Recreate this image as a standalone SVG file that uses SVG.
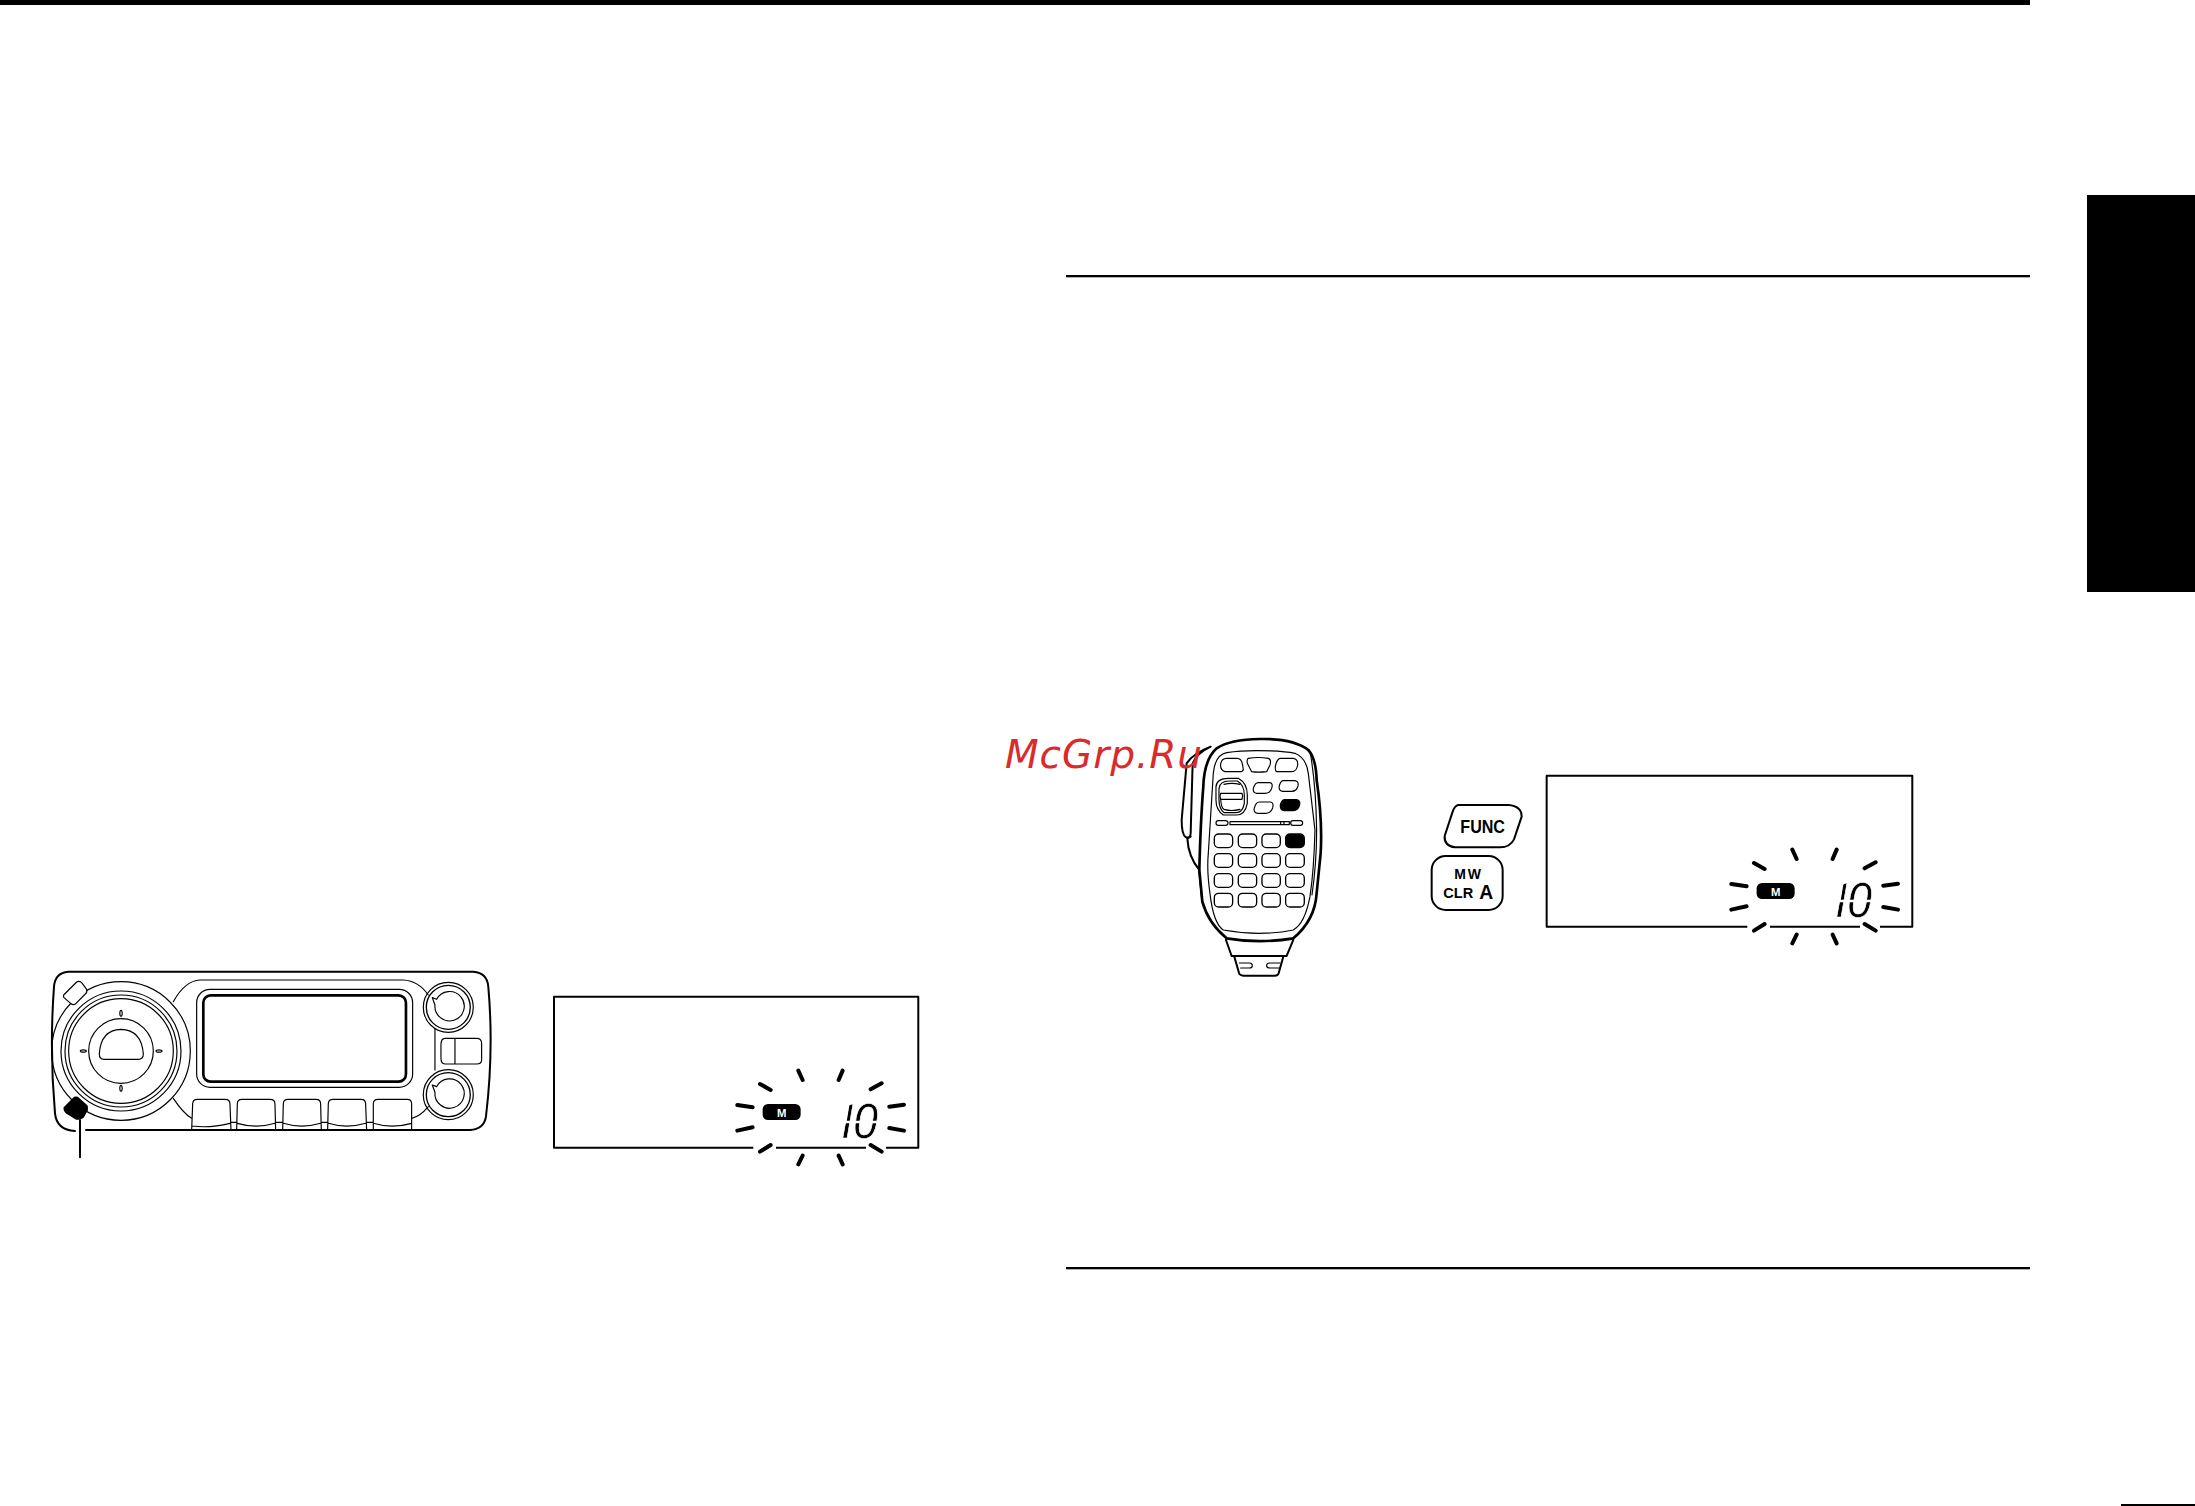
<svg xmlns="http://www.w3.org/2000/svg" width="2195" height="1506" viewBox="0 0 2195 1506">
<style>
.l{fill:none;stroke:#000;stroke-linecap:round;stroke-linejoin:round}
.w{fill:#fff;stroke:#000;stroke-linejoin:round}
.b{fill:#000;stroke:#000;stroke-linejoin:round}
.s3{stroke-width:3.5}.s4{stroke-width:4}.s6{stroke-width:6}.s8{stroke-width:8}
.ray{fill:none;stroke:#000;stroke-width:12;stroke-linecap:round}
.t{font-family:"Liberation Sans",Arial,sans-serif;font-weight:bold;text-anchor:middle}
.digits{font-family:Roboto,"Liberation Sans",sans-serif;font-style:italic;font-size:146px;letter-spacing:-20px;stroke:#fff;stroke-width:2}
.cut{fill:none;stroke:#fff;stroke-width:7}
</style>
<rect width="2195" height="1506" fill="#fff"/>
<g id="page-rules">
<rect x="0" y="0" width="2030" height="5" fill="#000"/>
<rect x="1066" y="275" width="964" height="2.3" fill="#000"/>
<rect x="1066" y="1267" width="964" height="2.3" fill="#000"/>
<rect x="2087" y="195" width="108" height="397" fill="#000"/>
<rect x="2121" y="1504" width="74" height="2" fill="#000"/>
</g>
<g id="radio" transform="translate(30 950) scale(.3333)">
<path class="l s6" d="M135 543Q80 540 75 490Q58 300 72 110Q75 68 115 65L1330 65Q1372 68 1375 110Q1392 300 1368 500Q1362 538 1320 540L168 540"/>
<path class="l s3" d="M430 155Q465 92 510 90L1120 90Q1165 92 1195 135M430 445Q460 490 485 505M1145 505Q1170 500 1195 470M1215 235V360"/>
<circle class="l s3" cx="273" cy="303" r="208"/>
<circle class="l s3" cx="273" cy="303" r="180"/>
<circle class="l s3" cx="273" cy="303" r="168"/>
<circle class="l s3" cx="273" cy="303" r="157"/>
<circle class="l s3" cx="273" cy="303" r="97"/>
<path class="l s3" d="M222 328Q208 328 208 312Q212 240 273 238Q335 240 340 312Q340 328 325 328Z"/>
<ellipse class="l s3" cx="273" cy="190" rx="3.5" ry="9"/>
<ellipse class="l s3" cx="273" cy="415" rx="3.5" ry="9"/>
<ellipse class="l s3" cx="160" cy="303" rx="9" ry="3.5"/>
<ellipse class="l s3" cx="387" cy="303" rx="9" ry="3.5"/>
<path class="w s3" d="M101 135L140 96Q148 92 155 98L170 118Q172 128 166 132L135 163Q128 166 122 160L102 143Q99 139 101 135Z"/>
<path class="b s3" d="M103 472L133 442Q138 440 143 442L170 466Q174 472 172 480L160 502Q150 510 138 507L108 488Q100 480 103 472Z"/>
<rect class="l s3" x="500" y="118" width="648" height="294" rx="40"/>
<rect class="l s8" x="520" y="136" width="608" height="259" rx="22"/>
<path class="l s3" d="M485 540L488 462Q488 448 502 448H585Q600 448 600 462L603 540M487 528Q540 535 600 520M620 540L622 462Q622 448 636 448H720Q735 448 735 462L737 540M622 520Q680 537 735 520M758 540L760 462Q760 448 774 448H858Q872 448 872 462L874 540M760 520Q815 537 872 520M893 540L895 462Q895 448 909 448H993Q1007 448 1007 462L1010 540M895 520Q950 537 1007 520M1030 540L1030 462Q1030 448 1044 448H1132Q1145 448 1145 462V540M1030 520Q1085 537 1145 520M603 517H620M737 517H758M874 517H893M1010 517H1030"/>
<path class="l s3" d="M1245 265H1340Q1355 265 1355 280V330Q1355 342 1340 342H1245Q1233 342 1233 325V285Q1233 265 1245 265ZM1275 265V342"/>
<g id="knob-top">
<circle class="l s3" cx="1255" cy="172" r="75"/>
<circle class="l s4" cx="1255" cy="172" r="66"/>
<path class="l s3" d="M1207 143L1220 148A44 44 0 1 1 1215 165Z"/>
</g>
<g id="knob-bottom">
<circle class="l s3" cx="1255" cy="434" r="75"/>
<circle class="l s4" cx="1255" cy="434" r="66"/>
<path class="l s3" d="M1207 405L1220 410A44 44 0 1 1 1215 427Z"/>
</g>
<path class="l s6" d="M150 510V622"/>
</g>
<g id="display-left" transform="translate(540 980) scale(.3333)">
<rect class="l s6" x="42" y="50" width="1093" height="453" stroke-linecap="butt"/>
<rect x="640" y="495" width="68" height="16" fill="#fff"/>
<rect x="978" y="495" width="60" height="16" fill="#fff"/>
<path class="ray" d="M660 312L692 330M775 272L788 300M908 272L896 300M1025 310L992 328M592 375L638 382M592 452L638 442M660 515L692 495M775 553L788 527M908 553L896 527M1025 515L992 495M1048 380L1092 374M1048 444L1092 452"/>
<rect x="668" y="372" width="114" height="48" rx="16" fill="#000"/>
<text class="t" x="725" y="410" font-size="34" fill="#fff">M</text>
<text class="digits" x="878" y="474">10</text>
<path class="cut" d="M905 426H1025"/>
<path d="M893 365H930L920 425H888Z" fill="#fff"/>
</g>
<g id="display-right" transform="translate(1534 759) scale(.3333)">
<rect class="l s6" x="38" y="50" width="1097" height="453" stroke-linecap="butt"/>
<rect x="640" y="495" width="68" height="16" fill="#fff"/>
<rect x="978" y="495" width="60" height="16" fill="#fff"/>
<path class="ray" d="M660 312L692 330M775 272L788 300M908 272L896 300M1025 310L992 328M592 375L638 382M592 452L638 442M660 515L692 495M775 553L788 527M908 553L896 527M1025 515L992 495M1048 380L1092 374M1048 444L1092 452"/>
<rect x="668" y="372" width="114" height="48" rx="16" fill="#000"/>
<text class="t" x="725" y="410" font-size="34" fill="#fff">M</text>
<text class="digits" x="878" y="474">10</text>
<path class="cut" d="M905 426H1025"/>
<path d="M893 365H930L920 425H888Z" fill="#fff"/>
</g>
<g id="microphone" transform="translate(1000 720) scale(.3333)">
<path class="w s6" d="M632 80Q580 100 560 130L545 300Q545 345 558 352Q572 356 572 340L578 130Q590 100 632 80Z"/>
<path class="w s8" d="M780 57Q880 55 925 90Q948 115 950 180Q968 300 962 400L950 520Q945 600 880 655Q780 672 680 655Q625 610 607 545L598 450Q602 300 610 200Q612 120 650 85Q690 58 780 57Z"/>
<path class="l s6" d="M572 350L562 355Q565 410 598 450"/>
<path class="l s3" d="M932 105Q948 200 950 330Q950 430 936 525M596 450L606 545"/>
<path class="l s3" d="M770 92Q850 92 885 100Q920 115 925 160L945 330Q942 450 930 530Q915 610 880 630Q780 650 670 630Q640 610 630 520Q620 450 625 400L640 160Q645 105 680 98Q720 92 770 92Z"/>
<path class="l s3" d="M680 115H712Q728 115 730 150L725 155H675Q660 150 662 132Q665 115 680 115ZM745 115Q775 110 805 115Q815 118 810 135L800 155Q775 158 755 155L742 130Q740 118 745 115ZM840 115H880Q895 118 893 135Q890 155 875 155H830Q825 152 826 140Q830 118 840 115Z"/>
<path class="l s3" d="M685 175H715Q742 190 742 225V250Q735 285 710 285H670Q648 270 648 240V200Q650 175 685 175Z"/>
<path class="l s3" d="M688 183H712Q733 195 733 225V250Q728 278 708 278H672Q657 265 657 240V205Q660 183 688 183Z"/>
<path class="l s3" d="M662 220H726Q730 228 726 238H662Q658 228 662 220ZM672 193Q695 187 720 193M672 268Q695 275 720 268M662 238Q664 265 672 268"/>
<path class="l s3" d="M775 188H810Q820 190 815 205Q810 220 795 220H770Q758 218 760 205Q765 188 775 188ZM850 182H885Q897 184 894 198Q890 214 875 214H848Q835 212 838 198Q842 182 850 182ZM778 246H812Q822 248 818 264Q812 280 798 280H772Q760 278 763 264Q768 246 778 246Z"/>
<path class="b s3" d="M855 239H890Q902 241 899 255Q895 272 880 272H853Q839 270 841 255Q845 239 855 239Z"/>
<rect class="l s3" x="648" y="302" width="36" height="14" rx="7"/>
<rect class="l s3" x="872" y="302" width="36" height="14" rx="7"/>
<path class="l s3" d="M690 305H868V314H690ZM842 305V314M852 305V314"/>
<g id="keypad">
<rect class="l s4" x="643" y="342" width="55" height="41" rx="13"/><rect class="l s4" x="715" y="342" width="55" height="41" rx="13"/><rect class="l s4" x="786" y="342" width="55" height="41" rx="13"/><rect class="b s4" x="857" y="342" width="56" height="41" rx="13"/>
<rect class="l s4" x="643" y="401" width="55" height="41" rx="13"/><rect class="l s4" x="715" y="401" width="55" height="41" rx="13"/><rect class="l s4" x="786" y="401" width="55" height="41" rx="13"/><rect class="l s4" x="857" y="401" width="56" height="41" rx="13"/>
<rect class="l s4" x="643" y="461" width="55" height="41" rx="13"/><rect class="l s4" x="715" y="461" width="55" height="41" rx="13"/><rect class="l s4" x="786" y="461" width="55" height="41" rx="13"/><rect class="l s4" x="857" y="461" width="56" height="41" rx="13"/>
<rect class="l s4" x="643" y="520" width="55" height="41" rx="13"/><rect class="l s4" x="715" y="520" width="55" height="41" rx="13"/><rect class="l s4" x="786" y="520" width="55" height="41" rx="13"/><rect class="l s4" x="857" y="520" width="56" height="41" rx="13"/>
</g>
<path class="l s6" d="M678 660L695 708H860L880 660M703 710L718 762Q722 767 730 767H825Q833 767 836 760L850 710"/>
<path class="l s3" d="M718 729H748Q757 729 757 737Q757 744 748 744H722M840 729H810Q800 729 800 737Q800 744 810 744H838"/>
</g>
<g id="key-func" transform="translate(1420 760) scale(.3333)">
<path class="w s6" d="M115 135H265Q305 138 305 170L282 238Q270 262 240 262H105Q72 258 74 228L98 155Q104 137 115 135Z"/>
<text class="t" x="188" y="220" font-size="54" textLength="134" lengthAdjust="spacingAndGlyphs">FUNC</text>
</g>
<g id="key-mw" transform="translate(1420 760) scale(.3333)">
<rect class="w s6" x="35" y="288" width="213" height="162" rx="42"/>
<text class="t" x="143" y="357" font-size="42" textLength="80" lengthAdjust="spacing">MW</text>
<text class="t" x="115" y="415" font-size="42" textLength="90" lengthAdjust="spacingAndGlyphs">CLR</text>
<text class="t" x="199" y="416" font-size="58">A</text>
</g>
<g id="watermark">
<text x="1005" y="768" font-size="39" font-style="italic" font-family="'DejaVu Sans',Verdana,sans-serif" fill="#d92b2b" textLength="197" lengthAdjust="spacing">McGrp.Ru</text>
</g>
</svg>
